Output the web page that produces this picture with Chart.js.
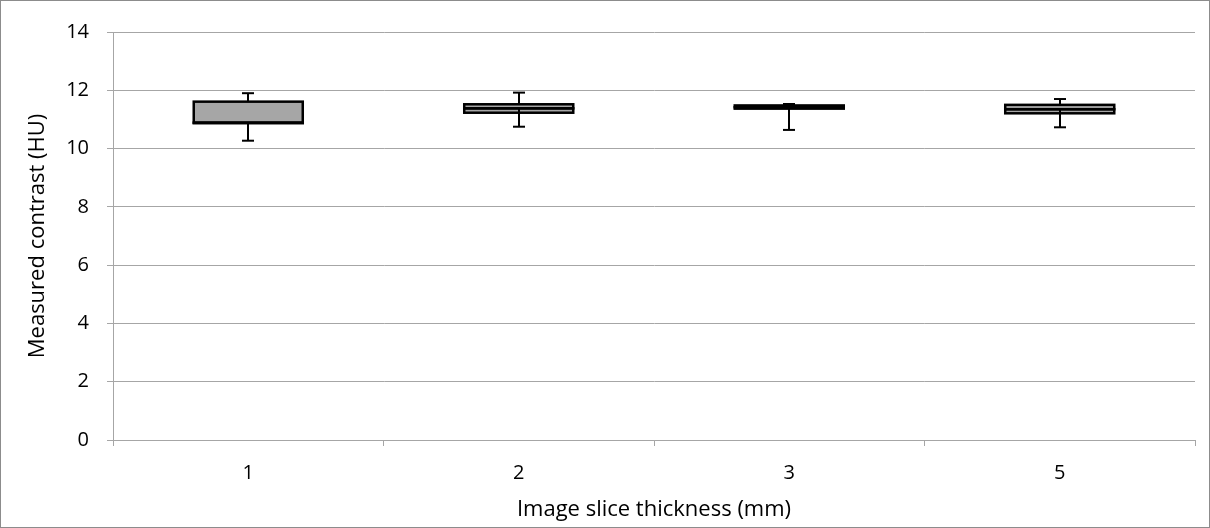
<!DOCTYPE html>
<html>
<head>
<meta charset="utf-8">
<script src="https://cdn.jsdelivr.net/npm/chart.js@4.4.1/dist/chart.umd.min.js"></script>
<style>
  html, body { margin: 0; padding: 0; background: #ffffff; }
  #wrap { width: 1210px; height: 528px; position: relative; }
</style>
</head>
<body>
<div id="wrap"><canvas id="c" width="1210" height="528"></canvas></div>
<script>
// Slice thickness categories and box-plot statistics (HU)
const categories = ['1', '2', '3', '5'];
const minValues    = [10.27, 10.75, 10.64, 10.73];
const q1Values     = [10.87, 11.23, 11.37, 11.21];
const medianValues = [10.89, 11.38, 11.42, 11.35];
const q3Values     = [11.61, 11.52, 11.48, 11.50];
const maxValues    = [11.90, 11.92, 11.53, 11.70];
const yTicks = [0, 2, 4, 6, 8, 10, 12, 14];

const FONT = '"Open Sans", "Noto Sans", sans-serif';
const TICK_SIZE = 20;
const TITLE_SIZE = 22;
const GRID = '#a6a6a6';
const BOX_FILL = '#a6a6a6';

// Box outlines (stroked centred on the bar edges) and whiskers with caps
const boxPlotPlugin = {
  id: 'boxplot',
  afterDatasetsDraw(chart) {
    const ctx = chart.ctx;
    const x = chart.scales.x, y = chart.scales.y;
    ctx.save();
    ctx.strokeStyle = '#000';

    ctx.lineWidth = 2.5;
    chart.data.datasets.forEach((ds, di) => {
      chart.getDatasetMeta(di).data.forEach(bar => {
        const p = bar.getProps(['x', 'y', 'base', 'width'], true);
        const top = Math.min(p.y, p.base), h = Math.abs(p.base - p.y);
        ctx.strokeRect(p.x - p.width / 2, top, p.width, h);
      });
    });

    ctx.lineWidth = 2;
    const cap = 6;
    categories.forEach((c, i) => {
      const px = Math.round(x.getPixelForValue(i));
      [[minValues[i], medianValues[i]], [q3Values[i], maxValues[i]]].forEach(([a, b]) => {
        ctx.beginPath();
        ctx.moveTo(px, y.getPixelForValue(a));
        ctx.lineTo(px, y.getPixelForValue(b));
        ctx.stroke();
      });
      [minValues[i], maxValues[i]].forEach(v => {
        const py = y.getPixelForValue(v);
        ctx.beginPath();
        ctx.moveTo(px - cap, py);
        ctx.lineTo(px + cap, py);
        ctx.stroke();
      });
    });
    ctx.restore();
  }
};

// White background and the thin outer chart frame
const framePlugin = {
  id: 'frame',
  beforeDraw(chart) {
    const ctx = chart.ctx;
    ctx.save();
    ctx.fillStyle = '#fff';
    ctx.fillRect(0, 0, chart.width, chart.height);
    ctx.restore();
  },
  afterDraw(chart) {
    const ctx = chart.ctx;
    ctx.save();
    ctx.strokeStyle = '#8c8c8c';
    ctx.lineWidth = 1;
    ctx.strokeRect(0.5, 0.5, chart.width - 1, chart.height - 1);
    ctx.restore();
  }
};

const lowerBox = categories.map((c, i) => [q1Values[i], medianValues[i]]);
const upperBox = categories.map((c, i) => [medianValues[i], q3Values[i]]);

const boxStyle = {
  grouped: false,
  backgroundColor: BOX_FILL,
  borderWidth: 0,
  categoryPercentage: 1,
  barPercentage: 0.403
};

new Chart(document.getElementById('c'), {
  type: 'bar',
  data: {
    labels: categories,
    datasets: [
      Object.assign({ label: 'Q1-Median', data: lowerBox }, boxStyle),
      Object.assign({ label: 'Median-Q3', data: upperBox }, boxStyle)
    ]
  },
  options: {
    responsive: false,
    animation: false,
    devicePixelRatio: 1,
    layout: { padding: { left: 0, right: 15, top: 32, bottom: 0 } },
    plugins: {
      legend: { display: false },
      tooltip: { enabled: false }
    },
    scales: {
      x: {
        type: 'category',
        offset: true,
        grid: {
          offset: true,
          drawOnChartArea: false,
          drawTicks: true,
          tickLength: 6,
          color: GRID,
          lineWidth: 1
        },
        border: { color: GRID, width: 1 },
        ticks: { color: '#000', font: { family: FONT, size: TICK_SIZE }, padding: 15 },
        title: {
          display: true,
          text: 'Image slice thickness (mm)',
          color: '#000',
          font: { family: FONT, size: TITLE_SIZE },
          padding: { top: 0, bottom: 5 }
        },
        afterFit(s) { s.height = 88; }
      },
      y: {
        min: 0,
        max: 14,
        afterBuildTicks(s) { s.ticks = yTicks.map(v => ({ value: v })); },
        grid: {
          color: GRID,
          lineWidth: 1,
          drawTicks: true,
          tickLength: 6
        },
        border: { color: GRID, width: 1 },
        ticks: { color: '#000', font: { family: FONT, size: TICK_SIZE }, padding: 18 },
        title: {
          display: true,
          text: 'Measured contrast (HU)',
          color: '#000',
          font: { family: FONT, size: TITLE_SIZE },
          padding: { top: 25, bottom: 0 }
        },
        afterFit(s) { s.width = 113; }
      }
    }
  },
  plugins: [framePlugin, boxPlotPlugin]
});
</script>
</body>
</html>
